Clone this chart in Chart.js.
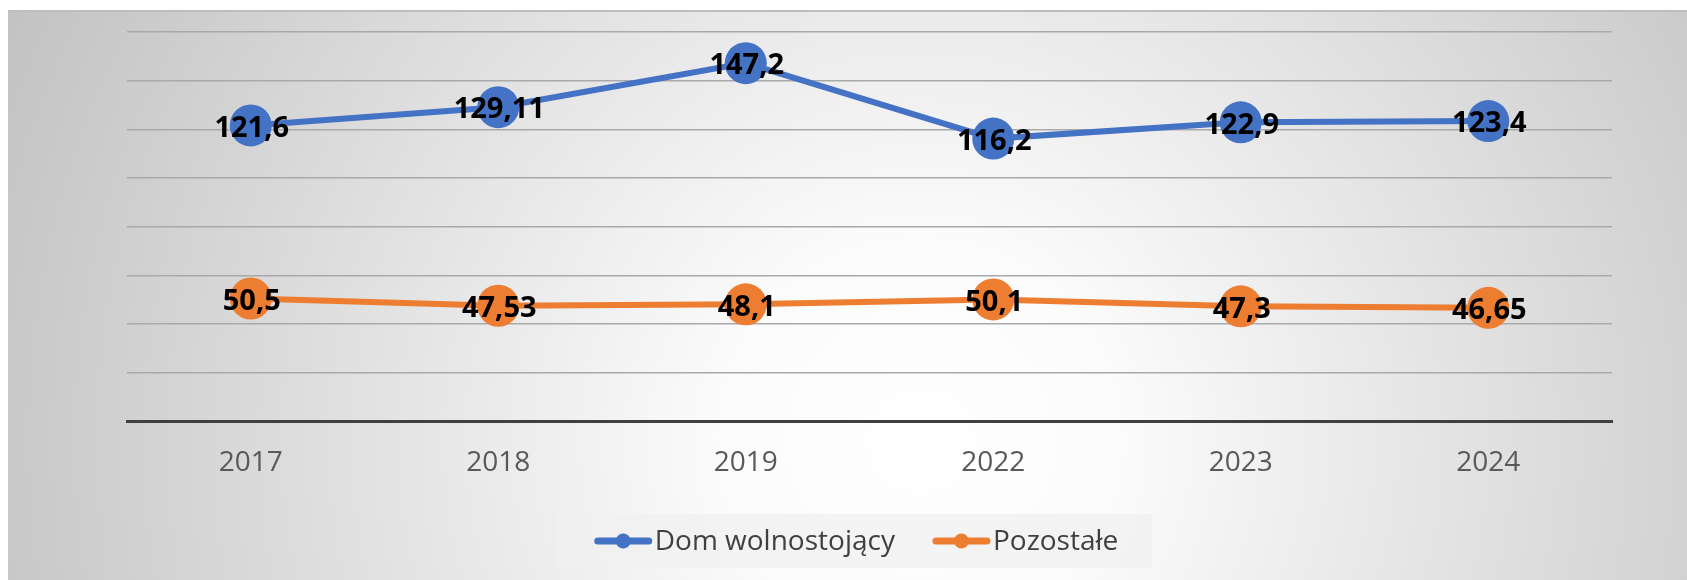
<!DOCTYPE html>
<html>
<head>
<meta charset="utf-8">
<script src="https://cdn.jsdelivr.net/npm/chart.js@4.4.1/dist/chart.umd.min.js"></script>
<style>
  html, body { margin: 0; padding: 0; background: #fff; }
  canvas { display: block; }
</style>
</head>
<body>
<canvas id="lineChart" width="1687" height="580"></canvas>
<script>
// --- dane ---
const years = ['2017', '2018', '2019', '2022', '2023', '2024'];
const domValues = [121.6, 129.11, 147.2, 116.2, 122.9, 123.4];
const otherValues = [50.5, 47.53, 48.1, 50.1, 47.3, 46.65];
const seriesNames = ['Dom wolnostojący', 'Pozostałe'];
const yTicks = [0, 20, 40, 60, 80, 100, 120, 140, 160];

const BLUE = '#4472C4';
const ORANGE = '#ED7D31';

Chart.defaults.font.family = "'Open Sans', sans-serif";

// tło wykresu - gradient radialny jak w Excelu
const panelBg = {
    id: 'panelBg',
    beforeDraw(chart) {
        const ctx = chart.ctx;
        const w = chart.width, h = chart.height;
        ctx.save();
        ctx.fillStyle = '#ffffff';
        ctx.fillRect(0, 0, w, h);
        const g = ctx.createRadialGradient(920, 440, 0, 920, 440, 1000);
        g.addColorStop(0, '#ffffff');
        g.addColorStop(0.2, '#fbfbfb');
        g.addColorStop(0.55, '#e2e2e2');
        g.addColorStop(0.92, '#c8c8c8');
        g.addColorStop(1, '#c3c3c3');
        ctx.fillStyle = g;
        ctx.fillRect(8, 11, w - 8, h - 11);
        ctx.strokeStyle = '#bdbdbd';
        ctx.lineWidth = 2;
        ctx.beginPath();
        ctx.moveTo(8, 11);
        ctx.lineTo(w, 11);
        ctx.stroke();
        ctx.restore();
    }
};

// etykiety wartości na punktach (przecinek dziesiętny)
const valueLabels = {
    id: 'valueLabels',
    afterDatasetsDraw(chart) {
        const ctx = chart.ctx;
        ctx.save();
        ctx.font = "bold 29px 'Open Sans', sans-serif";
        ctx.fillStyle = '#000000';
        ctx.textAlign = 'center';
        ctx.textBaseline = 'middle';
        chart.data.datasets.forEach((ds, i) => {
            const meta = chart.getDatasetMeta(i);
            meta.data.forEach((pt, j) => {
                ctx.fillText(String(ds.data[j]).replace('.', ','), pt.x + 1, pt.y + 3);
            });
        });
        ctx.restore();
    }
};

// legenda w ramce pod osią
const seriesLegend = {
    id: 'seriesLegend',
    afterDraw(chart) {
        const ctx = chart.ctx;
        ctx.save();
        ctx.font = "28px 'Open Sans', sans-serif";
        const markW = 57, textGap = 3, itemGap = 38, padL = 39, padR = 34;
        const items = chart.data.datasets.map(ds => ({
            label: ds.label,
            color: ds.borderColor,
            w: ctx.measureText(ds.label).width
        }));
        let total = padL + padR + itemGap * (items.length - 1);
        items.forEach(it => { total += markW + textGap + it.w; });
        const cx = 854, cy = 541;
        let x = cx - total / 2;
        ctx.fillStyle = 'rgba(240,240,240,0.75)';
        ctx.fillRect(x, 514, total, 54);
        x += padL;
        items.forEach(it => {
            ctx.strokeStyle = it.color;
            ctx.lineWidth = 7;
            ctx.lineCap = 'round';
            ctx.beginPath();
            ctx.moveTo(x + 3, cy);
            ctx.lineTo(x + markW - 3, cy);
            ctx.stroke();
            ctx.fillStyle = it.color;
            ctx.beginPath();
            ctx.arc(x + markW / 2, cy, 7.5, 0, Math.PI * 2);
            ctx.fill();
            x += markW + textGap;
            ctx.fillStyle = '#404040';
            ctx.textAlign = 'left';
            ctx.textBaseline = 'middle';
            ctx.fillText(it.label, x, cy + 1);
            x += it.w + itemGap;
        });
        ctx.restore();
    }
};

const ctx = document.getElementById('lineChart').getContext('2d');
window.lineChart = new Chart(ctx, {
    type: 'line',
    data: {
        labels: years,
        datasets: [
            {
                label: seriesNames[0],
                data: domValues,
                borderColor: BLUE,
                backgroundColor: BLUE,
                borderWidth: 6,
                pointRadius: 21,
                pointHoverRadius: 21,
                pointBorderWidth: 0,
                tension: 0,
                clip: false
            },
            {
                label: seriesNames[1],
                data: otherValues,
                borderColor: ORANGE,
                backgroundColor: ORANGE,
                borderWidth: 6,
                pointRadius: 21,
                pointHoverRadius: 21,
                pointBorderWidth: 0,
                tension: 0,
                clip: false
            }
        ]
    },
    options: {
        responsive: false,
        animation: false,
        layout: {
            padding: { left: 127, right: 75, top: 32, bottom: 75 }
        },
        plugins: {
            legend: { display: false },
            tooltip: { enabled: false }
        },
        scales: {
            x: {
                offset: true,
                grid: { display: false, drawTicks: false },
                border: { display: true, color: '#404040', width: 3 },
                ticks: { color: '#595959', font: { size: 28 }, padding: 25 }
            },
            y: {
                min: yTicks[0],
                max: yTicks[yTicks.length - 1],
                afterBuildTicks: axis => { axis.ticks = yTicks.map(v => ({ value: v })); },
                ticks: { display: false },
                grid: {
                    color: c => (c.tick && c.tick.value === 0) ? 'rgba(0,0,0,0)' : '#a9a9a9',
                    lineWidth: 1.5,
                    drawTicks: false
                },
                border: { display: false }
            }
        }
    },
    plugins: [panelBg, valueLabels, seriesLegend]
});
</script>
</body>
</html>
